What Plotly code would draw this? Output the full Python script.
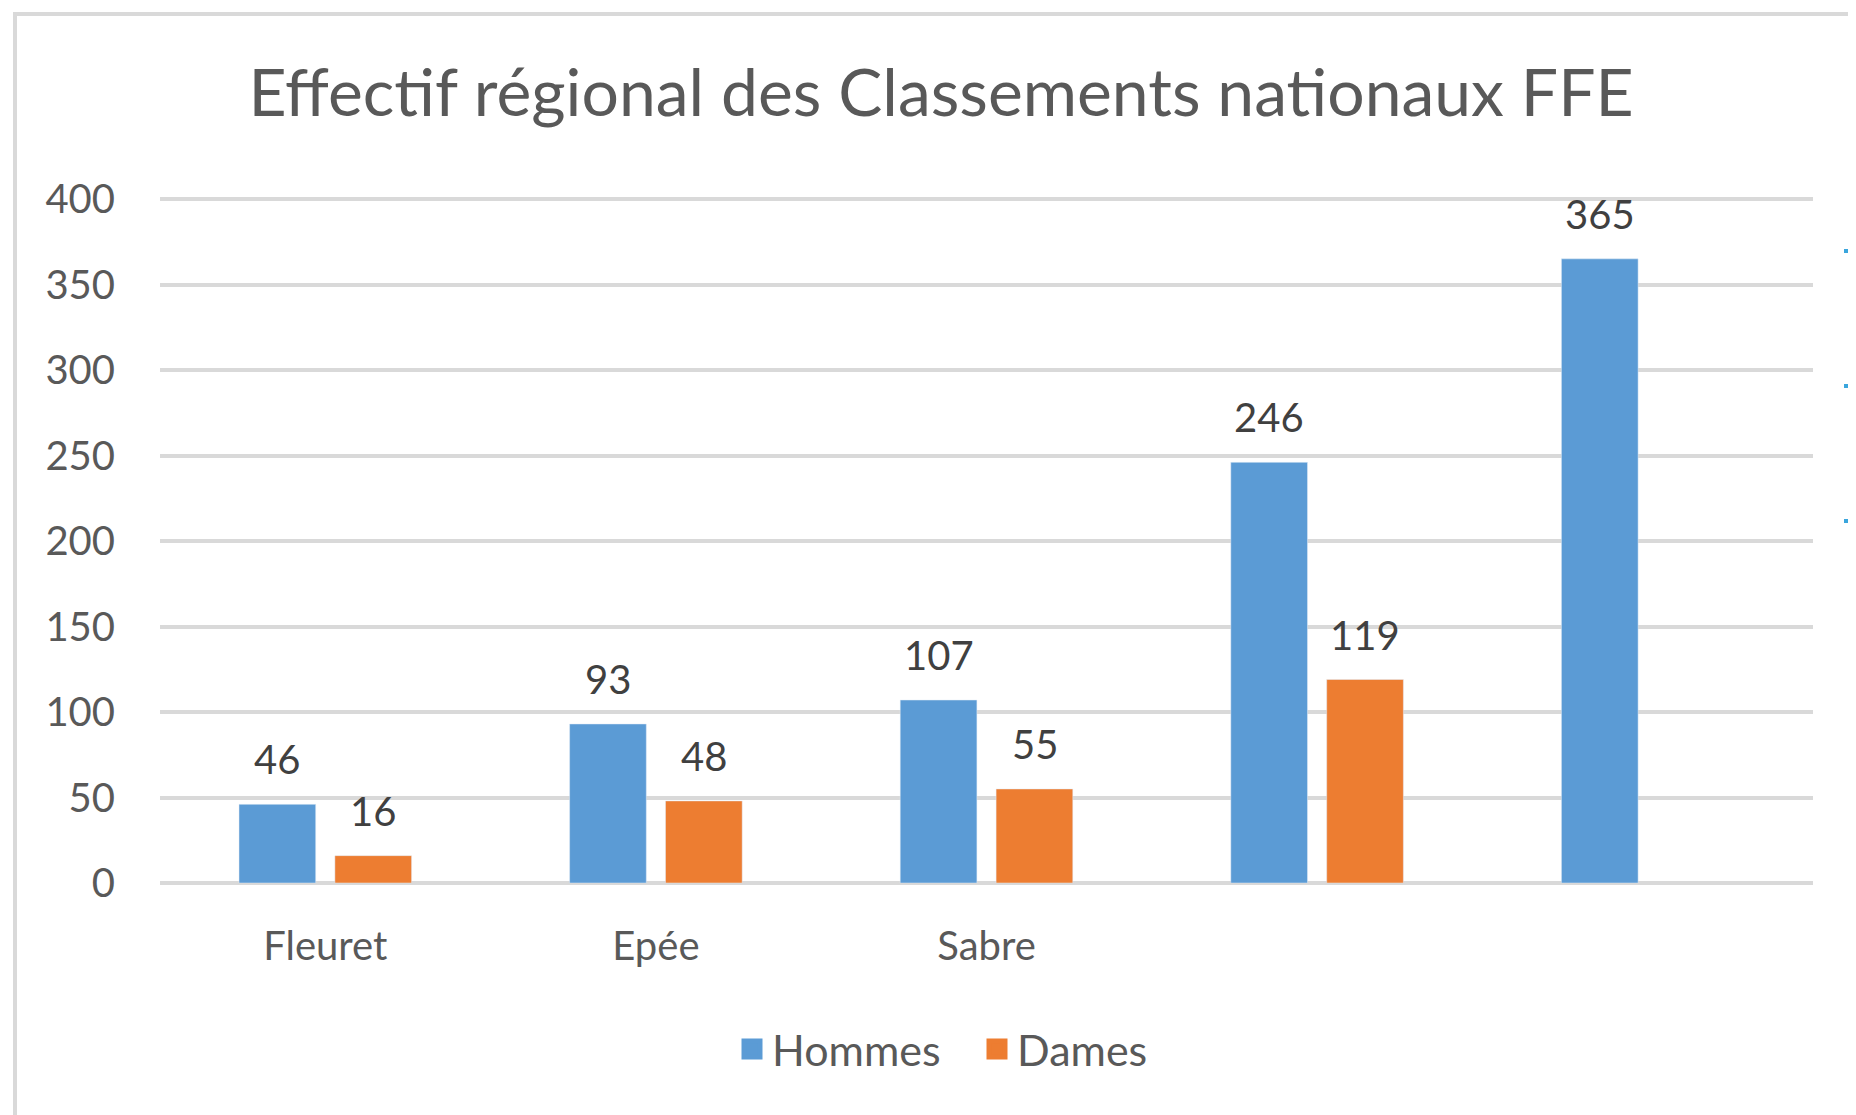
import plotly.graph_objects as go

categories = ["Fleuret", "Epée", "Sabre", "", ""]
hommes = [46, 93, 107, 246, 365]
dames = [16, 48, 55, 119, None]

BLUE = "#5B9BD5"
ORANGE = "#ED7D31"
GREY_TXT = "#595959"
LABEL_TXT = "#404040"
GRID = "#D9D9D9"
FONT = "Lato"

# page body has an 8px margin, so the figure origin sits at (8, 8) on screen;
# size the figure so that it ends exactly at the window edge
OFF = 8
W, H = 1856 - OFF, 1115 - OFF
L, R, B = 160 - OFF, 43, 232
T = 188
PW, PH = W - L - R, H - T - B
YMAX = 400 * PH / 684  # 400 lands on screen y=199, 0 on y=883


def px_x(sx):
    return (sx - OFF - L) / PW


def px_y(sy):
    return (H - B - (sy - OFF)) / PH


xpos = list(range(len(categories)))

fig = go.Figure()
fig.add_trace(go.Bar(x=xpos, y=hommes, name="Hommes", marker_color=BLUE,
                     showlegend=False))
fig.add_trace(go.Bar(x=xpos, y=dames, name="Dames", marker_color=ORANGE,
                     showlegend=False))

# legend entries with bigger square symbols
for name, col in [("Hommes", BLUE), ("Dames", ORANGE)]:
    fig.add_trace(go.Scatter(x=[None], y=[None], mode="markers", name=name,
                             marker=dict(symbol="square", size=16, color=col,
                                         line=dict(color=col, width=5))))

# data labels above bars
for vals, shift in [(hommes, -48), (dames, 48)]:
    for i, v in enumerate(vals):
        if v is None:
            continue
        fig.add_annotation(x=i, y=v, text=str(v), showarrow=False,
                           xshift=shift, yshift=45, yanchor="middle",
                           font=dict(family=FONT, size=40, color=LABEL_TXT))

shapes = [
    # chart frame (cropped at right and bottom)
    dict(type="rect", xref="paper", yref="paper",
         x0=px_x(15), x1=px_x(1920), y0=px_y(1200), y1=px_y(14),
         line=dict(color=GRID, width=4), fillcolor="rgba(0,0,0,0)", layer="below"),
]
# small accent marks at the right edge of the slide
for yy in (251, 386, 521):
    shapes.append(dict(type="rect", xref="paper", yref="paper",
                       x0=px_x(1844), x1=px_x(1856), y0=px_y(yy + 2), y1=px_y(yy - 2),
                       line=dict(width=0), fillcolor="#3AA6DD"))

fig.update_layout(
    width=W, height=H,
    margin=dict(l=L, r=R, t=T, b=B),
    paper_bgcolor="white",
    plot_bgcolor="white",
    barmode="group",
    bargap=0.42,
    bargroupgap=0.2,
    title=dict(text="Effectif régional des Classements nationaux FFE",
               x=(941 - OFF) / W, xanchor="center",
               y=1 - (93 - OFF) / H, yanchor="middle",
               font=dict(family=FONT, size=66, color=GREY_TXT)),
    font=dict(family=FONT, color=GREY_TXT),
    xaxis=dict(range=[-0.5, len(categories) - 0.5], tickvals=xpos, ticktext=categories,
               showgrid=False, zeroline=False, showline=False,
               ticks="", ticklabelstandoff=36,
               tickfont=dict(family=FONT, size=40, color=GREY_TXT)),
    yaxis=dict(range=[0, YMAX], tickvals=list(range(0, 401, 50)),
               showgrid=True, gridcolor=GRID, gridwidth=3.5,
               zeroline=True, zerolinecolor=GRID, zerolinewidth=3.5, showline=False,
               ticks="", ticklabelstandoff=44,
               tickfont=dict(family=FONT, size=40, color=GREY_TXT)),
    legend=dict(orientation="h", x=px_x(732), xanchor="left",
                y=px_y(1049), yanchor="middle", entrywidth=200,
                font=dict(family=FONT, size=43, color=GREY_TXT), itemsizing="trace"),
    shapes=shapes,
)

fig.write_html("out.html")
